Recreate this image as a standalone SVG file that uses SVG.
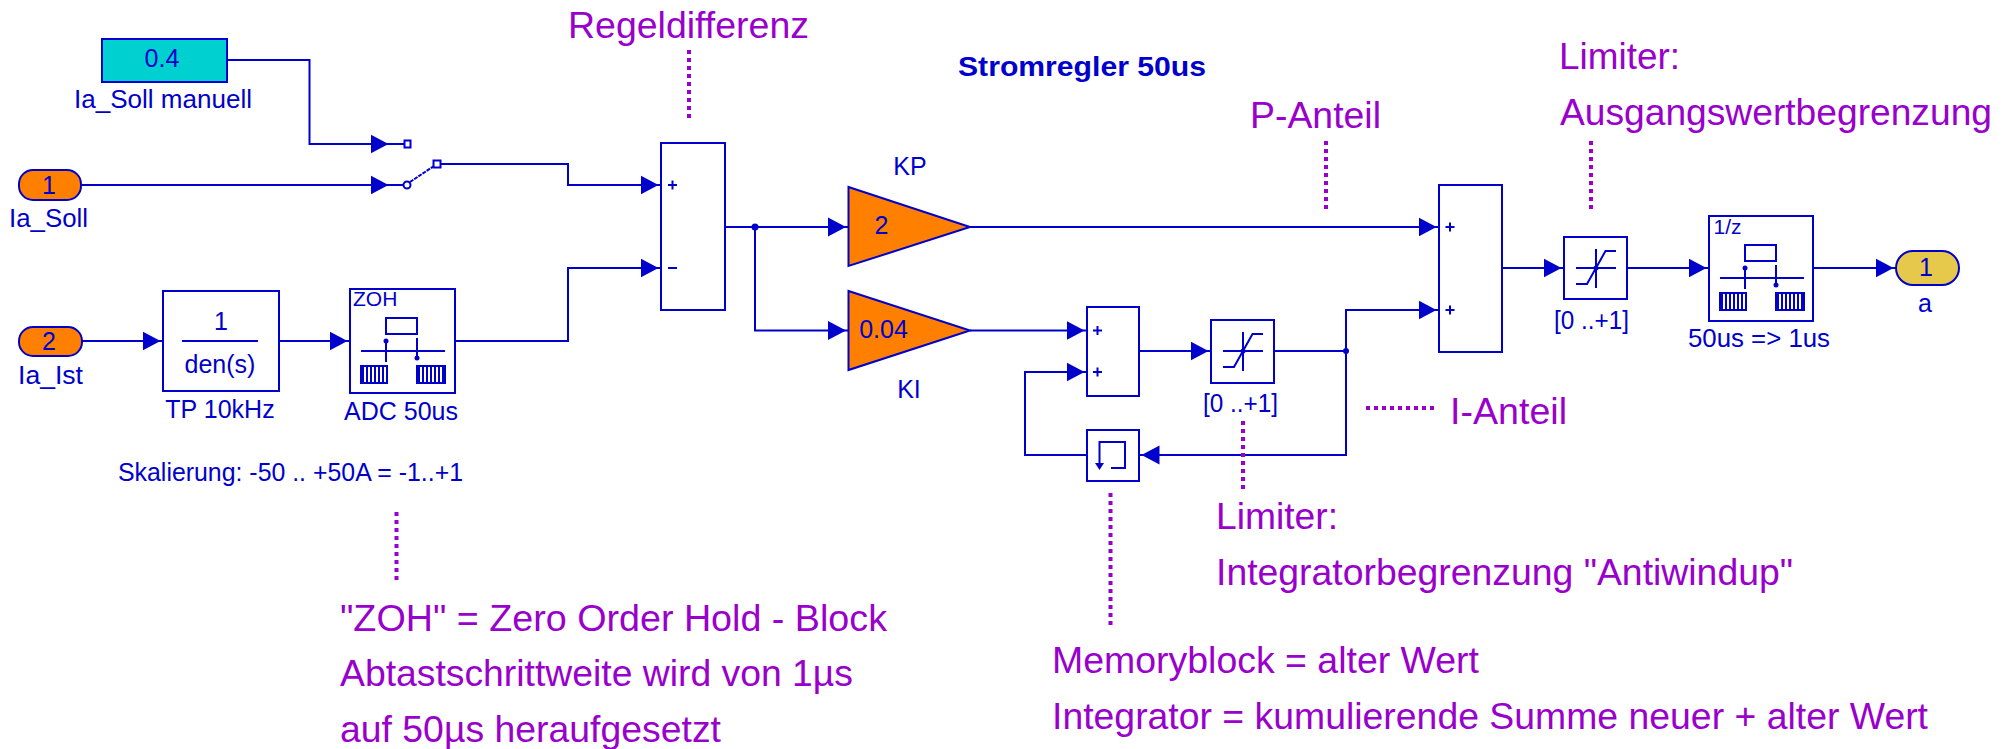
<svg xmlns="http://www.w3.org/2000/svg" xmlns:xlink="http://www.w3.org/1999/xlink" width="2013" height="749" viewBox="0 0 2013 749">
<style>
text{font-family:"Liberation Sans",Arial,sans-serif}
.b{fill:#fff;stroke:#0000cc;stroke-width:2}
.i{fill:none;stroke:#0000cc;stroke-width:2}
.w{fill:none;stroke:#0000cc;stroke-width:2}
.t{fill:#0000cc;font-size:25px}
.c{text-anchor:middle}
.s{fill:#0000cc;font-size:21px}
.p{fill:#9900cc;font-size:37px}
.d{fill:none;stroke:#9900cc;stroke-width:4;stroke-dasharray:4 4}
</style>
<defs>
<marker id="ah" markerUnits="userSpaceOnUse" markerWidth="24" markerHeight="22" refX="20.5" refY="10" orient="auto" viewBox="0 0 24 22"><path d="M0,0.5 L18,10 L0,19.5 Z" fill="#0000cc"/></marker>
<pattern id="hatch" patternUnits="userSpaceOnUse" width="4" height="4"><rect width="2" height="4" fill="#0000cc"/></pattern>
<g id="zoh">
<rect class="i" x="36" y="29" width="31" height="16"/>
<path class="i" d="M11,62 H95 M36,52 V73 M67,49 V71"/>
<circle cx="36" cy="52" r="2.500" fill="#0000cc"/><circle cx="67" cy="69" r="2.500" fill="#0000cc"/>
<rect x="11" y="77" width="26" height="17" fill="url(#hatch)" stroke="#0000cc" stroke-width="2"/>
<rect x="67" y="77" width="28" height="17" fill="url(#hatch)" stroke="#0000cc" stroke-width="2"/>
</g>
<g id="sat">
<path class="i" d="M12,31 H52 M32,12 V51 M52,14 H41.500 L23,47 H12"/>
<circle cx="32" cy="31" r="2.500" fill="#0000cc"/>
</g>
</defs>
<rect width="2013" height="749" fill="#fff"/>

<g id="connectors">
<path class="w" marker-end="url(#ah)" d="M227,60 H309.500 V144 H391"/>
<path class="w" marker-end="url(#ah)" d="M81,185 H391"/>
<path class="w" marker-end="url(#ah)" d="M441,164 H568 V185 H661"/>
<path class="w" marker-end="url(#ah)" d="M82,341 H163"/>
<path class="w" marker-end="url(#ah)" d="M279,341 H350"/>
<path class="w" marker-end="url(#ah)" d="M455,341 H568 V268 H661"/>
<path class="w" marker-end="url(#ah)" d="M725,227 H848.500"/>
<path class="w" marker-end="url(#ah)" d="M755,227 V330.500 H848.500"/>
<path class="w" marker-end="url(#ah)" d="M970,227 H1439"/>
<path class="w" marker-end="url(#ah)" d="M970,330.500 H1087"/>
<path class="w" marker-end="url(#ah)" d="M1139,351 H1211"/>
<path class="w" d="M1274,351 H1346"/>
<path class="w" marker-end="url(#ah)" d="M1346,351 V310 H1439"/>
<path class="w" marker-end="url(#ah)" d="M1346,351 V455 H1139"/>
<path class="w" marker-end="url(#ah)" d="M1087,455 H1025 V372 H1087"/>
<path class="w" marker-end="url(#ah)" d="M1502,268 H1564"/>
<path class="w" marker-end="url(#ah)" d="M1627,268 H1709"/>
<path class="w" marker-end="url(#ah)" d="M1813,268 H1896"/>
<circle cx="755" cy="227" r="3.500" fill="#0000cc"/>
<circle cx="1346" cy="351" r="3" fill="#0000cc"/>
</g>

<g id="const-soll">
<rect x="102" y="39" width="125" height="43" fill="#00d0d0" stroke="#0000cc" stroke-width="2"/>
<text class="t c" x="162" y="67">0.4</text>
<text class="t" x="74" y="108" textLength="178" lengthAdjust="spacingAndGlyphs">Ia_Soll manuell</text>
</g>
<g id="in1">
<rect x="19" y="170" width="62" height="30" rx="14" fill="#ff8000" stroke="#0000cc" stroke-width="2"/>
<text class="t c" x="49" y="194">1</text>
<text class="t" x="9" y="227" textLength="79" lengthAdjust="spacingAndGlyphs">Ia_Soll</text>
</g>
<g id="in2">
<rect x="19" y="327" width="63" height="29" rx="14" fill="#ff8000" stroke="#0000cc" stroke-width="2"/>
<text class="t c" x="49" y="350">2</text>
<text class="t" x="18" y="384" textLength="65" lengthAdjust="spacingAndGlyphs">Ia_Ist</text>
</g>
<g id="switch">
<path class="i" d="M389,144 H404 M389,185 H404"/>
<rect x="404.500" y="140.500" width="6" height="7" fill="#fff" stroke="#0000cc" stroke-width="2"/>
<circle cx="407" cy="185" r="3.500" fill="#fff" stroke="#0000cc" stroke-width="2"/>
<rect x="433.500" y="160.500" width="7" height="7" fill="#fff" stroke="#0000cc" stroke-width="2"/>
<path class="i" d="M410,182 L434,166" stroke-dasharray="4 1"/>
</g>
<g id="tp">
<rect class="b" x="163" y="291" width="116" height="100"/>
<path class="i" d="M182,341 H258"/>
<text class="t c" x="221" y="330">1</text>
<text class="t c" x="220" y="373">den(s)</text>
<text class="t c" x="220" y="418">TP 10kHz</text>
</g>
<g id="adc">
<rect class="b" x="350" y="289" width="105" height="104"/>
<use href="#zoh" x="350" y="289"/>
<text class="s" x="353" y="306">ZOH</text>
<text class="t c" x="401" y="420">ADC 50us</text>
</g>
<text class="t" id="scale" x="118" y="481" textLength="345" lengthAdjust="spacingAndGlyphs">Skalierung: -50 .. +50A = -1..+1</text>
<g id="sum1">
<rect class="b" x="661" y="143" width="64" height="167"/>
<path class="i" d="M668,185 H677 M672.500,180.500 V189.500 M668,268 H677"/>
</g>
<g id="kp">
<polygon points="848.500,187 970,227 848.500,266" fill="#ff8000" stroke="#0000cc" stroke-width="2"/>
<text class="t c" x="881.500" y="234">2</text>
<text class="t c" x="910" y="175">KP</text>
</g>
<g id="ki">
<polygon points="848.500,291 970,330.500 848.500,370" fill="#ff8000" stroke="#0000cc" stroke-width="2"/>
<text class="t c" x="883.500" y="338">0.04</text>
<text class="t c" x="909" y="398">KI</text>
</g>
<g id="sum2">
<rect class="b" x="1087" y="307" width="52" height="89"/>
<path class="i" d="M1093,330.500 H1102 M1097.500,326 V335 M1093,372 H1102 M1097.500,367.500 V376.500"/>
</g>
<g id="sat1">
<rect class="b" x="1211" y="320" width="63" height="63"/>
<use href="#sat" x="1211" y="320"/>
<text class="t c" x="1240.500" y="412" textLength="75" lengthAdjust="spacingAndGlyphs">[0 ..+1]</text>
</g>
<g id="memory">
<rect class="b" x="1087" y="430" width="52" height="51"/>
<path class="i" d="M1099.500,465 V442 H1125 V468 H1111"/>
<path d="M1095,463 H1104 L1099.500,470 Z" fill="#0000cc"/>
</g>
<g id="sum3">
<rect class="b" x="1439" y="185" width="63" height="167"/>
<path class="i" d="M1445.500,227 H1454.500 M1450,222.500 V231.500 M1445.500,310 H1454.500 M1450,305.500 V314.500"/>
</g>
<g id="sat2">
<rect class="b" x="1564" y="237" width="63" height="62"/>
<use href="#sat" x="1564" y="237"/>
<text class="t c" x="1591.500" y="329" textLength="75" lengthAdjust="spacingAndGlyphs">[0 ..+1]</text>
</g>
<g id="rate">
<rect class="b" x="1709" y="216" width="104" height="105"/>
<use href="#zoh" x="1709" y="216"/>
<text class="s" x="1713.500" y="234">1/z</text>
<text class="t" x="1688" y="347" textLength="142" lengthAdjust="spacingAndGlyphs">50us =&gt; 1us</text>
</g>
<g id="out1">
<rect x="1896" y="251" width="63" height="34" rx="17" fill="#e6c84b" stroke="#0000cc" stroke-width="2"/>
<text class="t c" x="1926" y="276">1</text>
<text class="t c" x="1925" y="312">a</text>
</g>
<text id="title" x="958" y="76" font-size="28" font-weight="bold" fill="#0000cc" textLength="248" lengthAdjust="spacingAndGlyphs">Stromregler 50us</text>

<g id="annotations">
<path class="d" d="M689,50 V122 M1326,141 V213 M1591,141 V213 M396.500,512 V583 M1243,421 V493 M1110.500,493 V625 M1366,408 H1438"/>
<text class="p" x="568" y="38" textLength="241" lengthAdjust="spacingAndGlyphs">Regeldifferenz</text>
<text class="p" x="1250" y="128" textLength="131" lengthAdjust="spacingAndGlyphs">P-Anteil</text>
<text class="p" x="1559" y="69" textLength="121" lengthAdjust="spacingAndGlyphs">Limiter:</text>
<text class="p" x="1560" y="125" textLength="432" lengthAdjust="spacingAndGlyphs">Ausgangswertbegrenzung</text>
<text class="p" x="340" y="631" textLength="547" lengthAdjust="spacingAndGlyphs">"ZOH" = Zero Order Hold - Block</text>
<text class="p" x="340" y="686" textLength="513" lengthAdjust="spacingAndGlyphs">Abtastschrittweite wird von 1µs</text>
<text class="p" x="340" y="742" textLength="381" lengthAdjust="spacingAndGlyphs">auf 50µs heraufgesetzt</text>
<text class="p" x="1450" y="424" textLength="117" lengthAdjust="spacingAndGlyphs">I-Anteil</text>
<text class="p" x="1216" y="529" textLength="122" lengthAdjust="spacingAndGlyphs">Limiter:</text>
<text class="p" x="1216" y="585" textLength="577" lengthAdjust="spacingAndGlyphs">Integratorbegrenzung "Antiwindup"</text>
<text class="p" x="1052" y="673" textLength="427" lengthAdjust="spacingAndGlyphs">Memoryblock = alter Wert</text>
<text class="p" x="1052" y="729" textLength="876" lengthAdjust="spacingAndGlyphs">Integrator = kumulierende Summe neuer + alter Wert</text>
</g>
</svg>
